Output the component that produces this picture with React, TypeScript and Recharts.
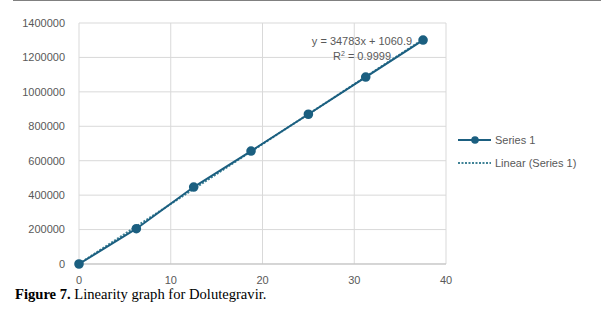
import React from "react";
import { ComposedChart, Line, XAxis, YAxis, CartesianGrid } from "recharts";

const concentrations = [0, 6.25, 12.5, 18.75, 25, 31.25, 37.5];
const areas = [0, 205000, 447000, 656000, 870000, 1086000, 1301000];
const trendX = [0, 37.5];
const trendY = [1061, 1305424];
const xTicks = [0, 10, 20, 30, 40];
const yTicks = [0, 200000, 400000, 600000, 800000, 1000000, 1200000, 1400000];

const seriesData = concentrations.map((x, i) => ({ x, y: areas[i] }));
const trendData = trendX.map((x, i) => ({ x, y: trendY[i] }));

const SERIES = "#1b5f80";
const TREND = "#3f8296";
const TEXT = "#595959";
const tickStyle = { fontSize: 11, fill: TEXT, fontFamily: "Liberation Sans, Arial, sans-serif" };

function App() {
  return (
    <div style={{ position: "absolute", left: 0, top: 0, width: 601, height: 312, background: "#fff" }}>
      <div style={{ position: "absolute", left: 13, right: 0, top: 0, height: 1, background: "#808080" }} />
      <ComposedChart
        width={601}
        height={312}
        margin={{ top: 23, right: 155, bottom: 18, left: 0 }}
      >
        <CartesianGrid stroke="#d9d9d9" />
        <XAxis
          type="number"
          dataKey="x"
          domain={[0, 40]}
          ticks={xTicks}
          tick={tickStyle}
          tickLine={false}
          axisLine={{ stroke: "#bfbfbf" }}
          tickMargin={6}
          height={30}
        />
        <YAxis
          type="number"
          dataKey="y"
          domain={[0, 1400000]}
          ticks={yTicks}
          tick={tickStyle}
          tickLine={false}
          axisLine={false}
          width={79}
          tickMargin={8}
        />
        <Line
          data={trendData}
          dataKey="y"
          stroke={TREND}
          strokeWidth={2}
          strokeDasharray="2 1.5"
          dot={false}
          isAnimationActive={false}
        />
        <Line
          data={seriesData}
          dataKey="y"
          stroke={SERIES}
          strokeWidth={2}
          dot={{ r: 3.8, fill: SERIES, stroke: SERIES }}
          isAnimationActive={false}
        />
      </ComposedChart>

      <div style={{ position: "absolute", left: 300, top: 34, width: 124, textAlign: "center", fontFamily: "Liberation Sans, Arial, sans-serif", fontSize: 11, color: TEXT, lineHeight: "15px" }}>
        <div>y = 34783x + 1060.9</div>
        <div>R<sup style={{ fontSize: 7, verticalAlign: "4px", lineHeight: 0 }}>2</sup> = 0.9999</div>
      </div>

      <div style={{ position: "absolute", left: 457, top: 132, fontFamily: "Liberation Sans, Arial, sans-serif", fontSize: 11, color: TEXT }}>
        <div style={{ display: "flex", alignItems: "center", height: 16 }}>
          <svg width={34} height={10}>
            <line x1={1} y1={5} x2={34} y2={5} stroke={SERIES} strokeWidth={2} />
            <circle cx={18} cy={5} r={3.8} fill={SERIES} />
          </svg>
          <span style={{ marginLeft: 4 }}>Series 1</span>
        </div>
        <div style={{ display: "flex", alignItems: "center", height: 16, marginTop: 7 }}>
          <svg width={34} height={10}>
            <line x1={1} y1={5} x2={34} y2={5} stroke={TREND} strokeWidth={2} strokeDasharray="2 1.5" />
          </svg>
          <span style={{ marginLeft: 4 }}>Linear (Series 1)</span>
        </div>
      </div>

      <div style={{ position: "absolute", left: 15, top: 286, fontFamily: "Liberation Serif, Times New Roman, serif", fontSize: 14.6, color: "#000", whiteSpace: "nowrap" }}>
        <b>Figure 7.</b> Linearity graph for Dolutegravir.
      </div>
    </div>
  );
}

export default App;
